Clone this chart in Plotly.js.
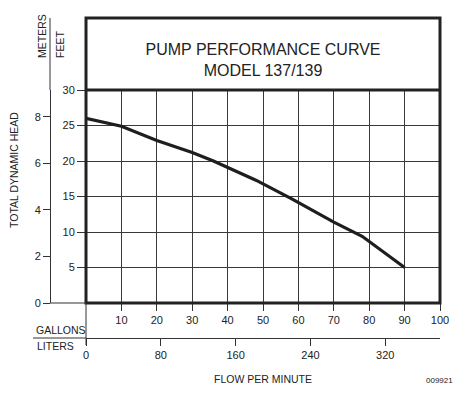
<!DOCTYPE html>
<html>
<head>
<meta charset="utf-8">
<script src="https://cdn.plot.ly/plotly-3.0.1.min.js"></script>
<style>html,body{margin:0;padding:0;background:#fff;}#chart{width:466px;height:394px;}</style>
</head>
<body>
<div id="chart"></div>
<script>
// ---- data ----
const flowGallons = [0, 10, 20, 30, 36, 48, 58, 70, 78, 90];
const headFeet    = [26, 24.9, 22.9, 21.2, 20.0, 17.3, 14.7, 11.4, 9.4, 5.0];
const gallonTicks = [10, 20, 30, 40, 50, 60, 70, 80, 90, 100];
const literTicks  = [0, 80, 160, 240, 320];
const feetTicks   = [5, 10, 15, 20, 25, 30];
const meterTicks  = [0, 2, 4, 6, 8];
const titleLines  = ['PUMP PERFORMANCE CURVE', 'MODEL 137/139'];

const FT_PER_M = 3.28084;
const L_PER_GAL = 3.78541;

// ---- page geometry (pixels) ----
const W = 466, H = 394;
const L = 30, R = 26, T = 18, B = 49;
const PW = W - L - R, PH = H - T - B;
const PX = x => (x - L) / PW;
const PY = y => (T + PH - y) / PH;

const sans = "'Liberation Sans', Arial, sans-serif";
const ink = '#222';
const tickFont = { family: sans, size: 11, color: ink };

const galRange = [0, 100];
const feetRange = [0, 30];

const traces = [
  { x: flowGallons, y: headFeet, xaxis: 'x', yaxis: 'y', mode: 'lines',
    line: { color: '#1e1e1e', width: 3.2 }, hoverinfo: 'skip' },
  // carriers for the metric axes
  { x: [0], y: [0], xaxis: 'x', yaxis: 'y2', mode: 'markers', marker: { opacity: 0 }, hoverinfo: 'skip' },
  { x: [0], y: [0], xaxis: 'x2', yaxis: 'y', mode: 'markers', marker: { opacity: 0 }, hoverinfo: 'skip' }
];

const line = (x0, y0, x1, y1, w, c) => ({ type: 'line', xref: 'paper', yref: 'paper',
  x0: PX(x0), y0: PY(y0), x1: PX(x1), y1: PY(y1), line: { color: c || ink, width: w } });

const ann = (text, x, y, opts) => Object.assign({ text, xref: 'paper', yref: 'paper',
  x: PX(x), y: PY(y), showarrow: false, xanchor: 'center', yanchor: 'middle',
  font: { family: sans, size: 10.5, color: ink } }, opts || {});

const layout = {
  width: W, height: H,
  margin: { l: L, r: R, t: T, b: B, pad: 0 },
  paper_bgcolor: '#fff', plot_bgcolor: 'rgba(0,0,0,0)',
  showlegend: false,
  font: { family: sans, size: 11, color: ink },
  title: { text: titleLines.join('<br>'), xref: 'paper', yref: 'paper',
    x: PX(263), y: PY(55), xanchor: 'center', yanchor: 'middle',
    font: { family: sans, size: 16, color: ink } },
  xaxis: { domain: [PX(86), PX(440)], range: galRange, anchor: 'y',
    tickmode: 'array', tickvals: gallonTicks, ticks: 'outside', ticklen: 7, tickwidth: 1, tickcolor: '#333',
    showgrid: true, gridcolor: '#3a3a3a', gridwidth: 1, zeroline: false, showline: false,
    tickfont: tickFont },
  yaxis: { domain: [PY(303), PY(90)], range: feetRange, anchor: 'x',
    tickmode: 'array', tickvals: feetTicks, ticks: 'outside', ticklen: 8, tickwidth: 1, tickcolor: '#333',
    showgrid: true, gridcolor: '#3a3a3a', gridwidth: 1, zeroline: false, showline: false,
    tickfont: tickFont },
  yaxis2: { overlaying: 'y', anchor: 'free', position: PX(50), side: 'left',
    range: [feetRange[0] / FT_PER_M, feetRange[1] / FT_PER_M],
    tickmode: 'array', tickvals: meterTicks, ticks: 'outside', ticklen: 7, tickwidth: 1, tickcolor: '#333',
    showline: true, linecolor: '#333', linewidth: 1, showgrid: false, zeroline: false,
    tickfont: tickFont },
  xaxis2: { overlaying: 'x', anchor: 'free', position: PY(338), side: 'bottom',
    range: [galRange[0] * L_PER_GAL, galRange[1] * L_PER_GAL],
    tickmode: 'array', tickvals: literTicks, ticks: 'outside', ticklen: 7, tickwidth: 1, tickcolor: '#333',
    showline: true, linecolor: '#333', linewidth: 1, showgrid: false, zeroline: false,
    tickfont: tickFont },
  shapes: [
    { type: 'rect', xref: 'paper', yref: 'paper', x0: PX(86), y0: PY(303), x1: PX(440), y1: PY(18),
      line: { color: ink, width: 3 }, fillcolor: 'rgba(0,0,0,0)' },
    line(86, 90, 440, 90, 3),
    line(50, 18, 50, 90, 1, '#333'),
    line(50, 303, 86, 303, 1, '#333'),
    line(86, 303, 86, 345, 1, '#333'),
    line(33, 338, 86, 338, 1, '#333')
  ],
  annotations: [
    ann('METERS', 42, 36, { textangle: -90 }),
    ann('FEET', 60, 45, { textangle: -90 }),
    ann('TOTAL DYNAMIC HEAD', 14, 170, { textangle: -90 }),
    ann('GALLONS', 34, 330, { xanchor: 'left' }),
    ann('LITERS', 35, 346, { xanchor: 'left' }),
    ann('FLOW PER MINUTE', 263, 379),
    ann('009921', 439, 380, { font: { family: sans, size: 8, color: ink } })
  ]
};

Plotly.newPlot('chart', traces, layout, { staticPlot: true, displayModeBar: false });
</script>
</body>
</html>
